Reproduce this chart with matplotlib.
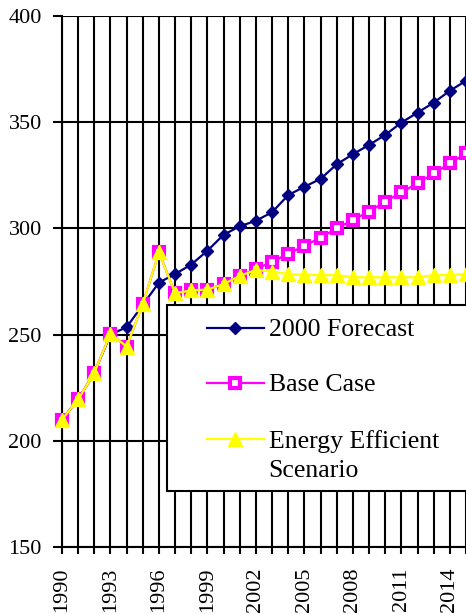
import matplotlib
matplotlib.use("Agg")
import matplotlib.pyplot as plt
from matplotlib.patches import Rectangle

plt.rcParams['font.family'] = ['Liberation Serif', 'DejaVu Serif']

years = list(range(1990, 2016))
forecast_2000 = [210, 219.5, 232, 250, 253.5, 264, 274.5, 278.5, 283, 289.5,
                 297, 301, 303.6, 307.6, 315.7, 319.6, 323.3, 330.2, 334.9, 339.3,
                 344.0, 349.8, 354.5, 359.2, 364.8, 369.5]
base_case = [210, 219.5, 232, 250.5, 244.3, 264.5, 288.7, 269.5, 270.8, 271.2,
             273.8, 277.6, 280.8, 284.3, 288.0, 291.9, 295.6, 300.0, 304.0, 307.9,
             312.6, 317.0, 321.2, 325.9, 330.6, 335.4]
energy_eff = [210, 219.5, 232, 250.5, 244.3, 264.5, 288.7, 269.5, 270.8, 271.2,
              273.8, 277.6, 280.5, 279.6, 278.5, 278.1, 278.1, 278.0, 277.0, 277.0,
              277.0, 277.0, 277.0, 278.0, 278.0, 278.5]
tick_labels = [str(y) if (y - 1990) % 3 == 0 else "" for y in years]
y_ticks = [150, 200, 250, 300, 350, 400]

fig = plt.figure(figsize=(4.66, 6.14), dpi=100)
ax = fig.add_axes([62 / 466, 67 / 614, 404 / 466, 531 / 614])

ax.plot(years, forecast_2000, color="#000080", lw=1.6, marker="D", ms=6.5,
        label="2000 Forecast", zorder=3, clip_on=False)
ax.plot(years, base_case, color="#FF00FF", lw=1.6, marker="s", ms=7.5,
        mfc="white", mec="#FF00FF", mew=3, label="Base Case", zorder=3.1,
        clip_on=False)
ax.plot(years, energy_eff, color="#FFFF00", lw=1.6, marker="^", ms=10,
        label="Energy Efficient\nScenario", zorder=3.2, clip_on=False)

ax.set_xlim(1990, 2015)
ax.set_ylim(150, 400)
ax.set_xticks(years)
ax.set_xticklabels(tick_labels, rotation=90, fontsize=16)
ax.set_yticks(y_ticks)
ax.tick_params(axis="y", labelsize=16, length=6.5, width=1.5, pad=8, direction="out")
ax.tick_params(axis="x", length=5, width=1.5, pad=10, direction="out")
ax.grid(True, color="black", lw=1.5, zorder=1)
ax.set_axisbelow(True)
for side in ["top", "right"]:
    ax.spines[side].set_visible(False)
for side in ["left", "bottom"]:
    ax.spines[side].set_linewidth(1.5)

# legend box
frame = Rectangle((167 / 466, 1 - 491 / 614), 320 / 466, 186 / 614,
                  transform=fig.transFigure, facecolor="white", edgecolor="black",
                  lw=1.5, zorder=4, clip_on=False)
ax.add_patch(frame)
leg = ax.legend(loc="upper left", bbox_to_anchor=(189 / 466, 1 - 301 / 614),
                bbox_transform=fig.transFigure, frameon=False, fontsize=18.5,
                handlelength=2.2, handletextpad=0.2, labelspacing=1.3,
                borderpad=0.2)
leg.set_zorder(5)
leg.texts[2].set_linespacing(1.45)
for col in leg._legend_handle_box.get_children():
    for item in col.get_children():
        item.align = "top"

fig.savefig("out.png", dpi=100)
